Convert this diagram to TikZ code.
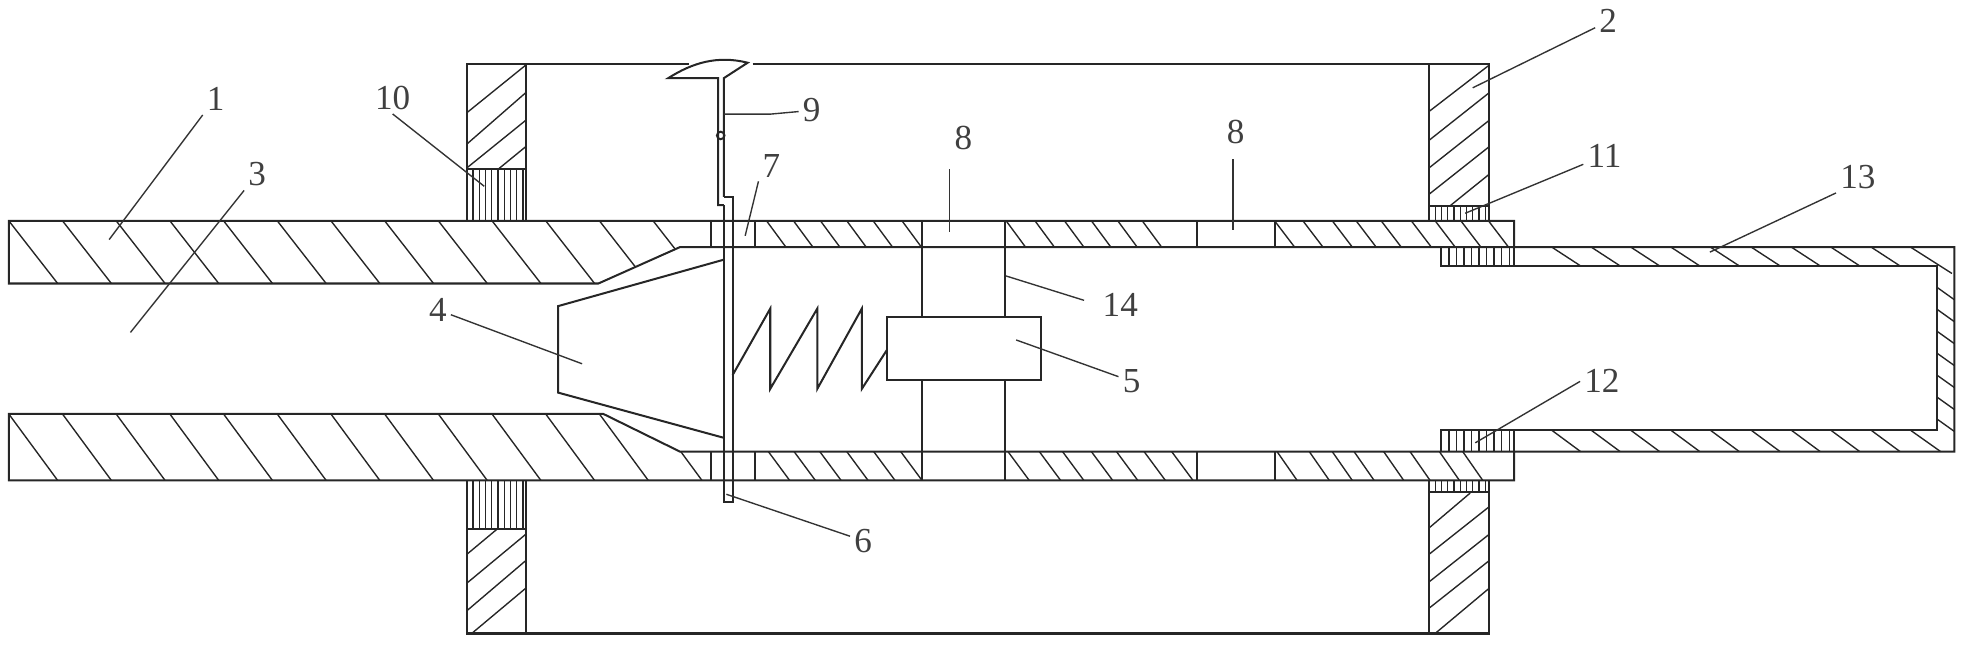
\documentclass[tikz,border=0pt]{standalone}
\usepackage{fontspec}
\setmainfont{Liberation Serif}
\tikzset{
  wall/.style={line width=.8pt,draw=black!85},
  hatch/.style={line width=.55pt,draw=black!85},
  thread/.style={line width=.5pt,draw=black!85},
  lead/.style={line width=.55pt,draw=black!80},
  num/.style={inner sep=1.5pt,text=black!75,font=\fontsize{14}{16}\selectfont}
}
\begin{document}
\begin{tikzpicture}[x=0.5pt,y=-0.5pt]
\useasboundingbox (0,0) rectangle (1568,516.6);
\begin{scope}
% hatching of the left pipe walls
\begin{scope}
\clip (7,176) -- (567,176) -- (567,197) -- (542,197) -- (477,226) -- (7,226) -- cycle;
\foreach \x in {7,49.8,...,530}
   \draw[hatch] (\x,176) -- (\x+39,226);
\end{scope}
\begin{scope}
\clip (7,330) -- (481,330) -- (542,360) -- (567,360) -- (567,383) -- (7,383) -- cycle;
\foreach \x in {7,49.8,...,560}
   \draw[hatch] (\x,330) -- (\x+39,383);
\end{scope}
% hatching of the thin sections
\foreach \x in {611,632.5,654,675,696,719}
   \draw[hatch] (\x,176) -- (\x+15.5,197);
\foreach \x in {612.5,633,653.5,675,696.5,718}
   \draw[hatch] (\x,360) -- (\x+17,383);
\foreach \x in {802,825,848.5,870,891,910.5}
   \draw[hatch] (\x,176) -- (\x+15.5,197);
\foreach \x in {803.5,828.5,847,870,890,912,934}
   \draw[hatch] (\x,360) -- (\x+17,383);
\foreach \x in {1016,1038.6,1062,1081,1101,1125,1144,1164.5,1186.5}
   \draw[hatch] (\x,176) -- (\x+16,197);
\foreach \x in {1018,1043.7,1062,1079.4,1103,1124,1147.4,1166}
   \draw[hatch] (\x,360) -- (\x+16,383);
% hatching of the end cap
\foreach \x in {1237,1268.5,1300,1332,1363.5,1396,1428,1459.5,1491.6}{
   \draw[hatch] (\x,197) -- (\x+23,212);
   \draw[hatch] (\x,343) -- (\x+23,360);
}
\draw[hatch] (1523,197) -- (1556,218);
\draw[hatch] (1523,343) -- (1547,360);
\foreach \y in {229,246.5,264,281.5,299,316.5,334}
   \draw[hatch] (1544,\y) -- (1558,\y+10);
% hatching of the frame blocks
\draw[hatch] (372,90) -- (419,52);
\draw[hatch] (372,115) -- (419,74);
\draw[hatch] (372,134) -- (419,96);
\draw[hatch] (397,135) -- (419,117);
\draw[hatch] (372,442) -- (396,422);
\draw[hatch] (372,465) -- (419,426);
\draw[hatch] (372,487) -- (419,447);
\draw[hatch] (376,505) -- (419,469);
\draw[hatch] (1139,89) -- (1187,52);
\draw[hatch] (1139,112) -- (1187,74);
\draw[hatch] (1139,134) -- (1187,96);
\draw[hatch] (1139,155) -- (1187,117);
\draw[hatch] (1156,164) -- (1187,139);
\draw[hatch] (1139,421) -- (1172,393);
\draw[hatch] (1139,442) -- (1187,404);
\draw[hatch] (1139,464) -- (1187,426);
\draw[hatch] (1139,485) -- (1187,447);
\draw[hatch] (1144,505) -- (1187,469);
% threads
\foreach \x in {377,382,...,417}{
   \draw[thread] (\x,135) -- (\x,176);
   \draw[thread] (\x,383) -- (\x,422);
}
\foreach \x in {1144,1149,...,1184}{
   \draw[thread] (\x,164) -- (\x,176);
   \draw[thread] (\x,383) -- (\x,392);
}
\foreach \x in {1155,1161,...,1203}{
   \draw[thread] (\x,197) -- (\x,212);
   \draw[thread] (\x,343) -- (\x,360);
}
% pipe
\draw[wall] (1207,197) -- (1207,176) -- (7,176) -- (7,226) -- (477,226) -- (542,197) -- (1558,197) -- (1558,360) -- (542,360) -- (481,330) -- (7,330) -- (7,383) -- (1207,383) -- (1207,360);
\foreach \x in {567,602,954,1016}{
   \draw[wall] (\x,176) -- (\x,197);
   \draw[wall] (\x,360) -- (\x,383);
}
\draw[wall] (1149,197) -- (1149,212) -- (1544,212) -- (1544,343) -- (1149,343) -- (1149,360);
\draw[wall] (1207,197) -- (1207,212);
\draw[wall] (1207,343) -- (1207,360);
% frame
\draw[wall] (549,51) -- (372,51) -- (372,176);
\draw[wall] (600,51) -- (1187,51) -- (1187,176);
\draw[wall] (419,51) -- (419,176);
\draw[wall] (1139,51) -- (1139,176);
\draw[wall] (372,135) -- (419,135);
\draw[wall] (1139,164) -- (1187,164);
\draw[wall] (372,383) -- (372,505) -- (1187,505) -- (1187,383);
\draw[wall] (419,383) -- (419,505);
\draw[wall] (1139,383) -- (1139,505);
\draw[wall] (372,422) -- (419,422);
\draw[wall] (1139,392) -- (1187,392);
% piston, spring and block
\draw[wall] (577,207) -- (445,244) -- (445,313) -- (577,349);
\draw[wall] (735,176) -- (735,253);
\draw[wall] (735,303) -- (735,383);
\draw[wall] (801,176) -- (801,253);
\draw[wall] (801,303) -- (801,383);
\draw[wall] (584,299) -- (614,246) -- (614,310) -- (651.5,246) -- (651.5,310) -- (687,246) -- (687,310) -- (707,279);
\draw[wall] (707,253) rectangle (830,303);
% plate and handle
\draw[wall] (577,163.5) -- (577,400) -- (584,400) -- (584,157) -- (577,157);
\draw[wall] (577,163.5) -- (572.5,163.5) -- (572.5,62.3) -- (532.7,62.3) .. controls (552,50) and (572,44) .. (596,50) -- (577,62.3) -- (577,157);
\draw[wall] (574.5,108) circle (3);
\end{scope}
% labels
\node[num] (n1) at (172,79) {1};
\node[num] (n2) at (1282,17) {2};
\node[num] (n3) at (205,139) {3};
\node[num] (n4) at (349,247) {4};
\node[num] (n5) at (902,304) {5};
\node[num] (n6) at (688,431) {6};
\node[num] (n7) at (615,132) {7};
\node[num] (n8a) at (768,110) {8};
\node[num] (n8b) at (985,105) {8};
\node[num] (n9) at (647,88) {9};
\node[num] (n10) at (313,78) {10};
\node[num] (n11) at (1279,124) {11};
\node[num] (n12) at (1277,304) {12};
\node[num] (n13) at (1481,141) {13};
\node[num] (n14) at (893,243) {14};
% leaders
\coordinate (p1) at (87,191);
\coordinate (p2) at (1174,70);
\coordinate (p3) at (104,265);
\coordinate (p4) at (464,290);
\coordinate (p5) at (810,271);
\coordinate (p6) at (579,394);
\coordinate (p7) at (594,188);
\coordinate (p8a) at (757,185);
\coordinate (p8b) at (983,183);
\coordinate (p9) at (577,91);
\coordinate (p9k) at (614,91);
\coordinate (p10) at (386,148.5);
\coordinate (p11) at (1168,170);
\coordinate (p12) at (1176,353);
\coordinate (p13) at (1363,201);
\coordinate (p14) at (802,220);
\foreach \a/\b in {n1.south west/p1,n2/p2,n3.south west/p3,n4/p4,n5/p5,n6/p6,n7.south west/p7,n10.south/p10,n11/p11,n12.west/p12,n13.south west/p13}
   \draw[lead] (\a) -- (\b);
\draw[lead,shorten <=6pt] (n14.west) -- (p14);
\draw[lead] (p8a |- n8a.south) ++(0,12) -- (p8a);
\draw[lead] (p8b |- n8b.south) ++(0,9) -- (p8b);
\draw[lead] (n9) -- (p9k) -- (p9);
\end{tikzpicture}
\end{document}
